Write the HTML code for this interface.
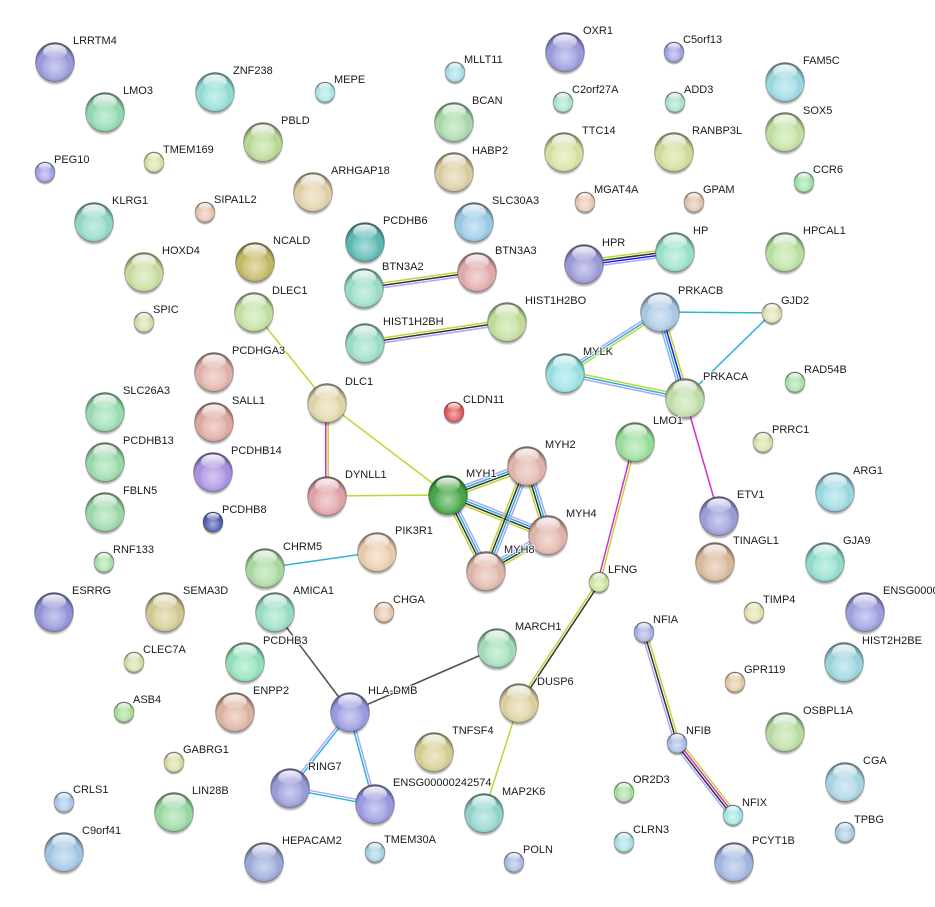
<!DOCTYPE html>
<html><head><meta charset="utf-8"><style>
html,body{margin:0;padding:0;background:#fff;}
svg{display:block;}
text{font-family:"Liberation Sans",Arial,sans-serif;font-size:11px;fill:#1a1a1a;stroke:#fff;stroke-width:2px;paint-order:stroke;stroke-linejoin:round;}
line{stroke-width:1.5;fill:none;}
.y{stroke:#bdd634}.k{stroke:#333}.l{stroke:#a8a8ff}.c{stroke:#2eb2d6}.b{stroke:#1c1cf0}.m{stroke:#d22ed2}.g{stroke:#505050}
</style></head><body>
<svg width="935" height="907" viewBox="0 0 935 907" xmlns="http://www.w3.org/2000/svg">
<defs>
<radialGradient id="gs" cx="50%" cy="50%" r="50%"><stop offset="0" stop-color="#000" stop-opacity=".45"/><stop offset=".85" stop-color="#000" stop-opacity=".35"/><stop offset="1" stop-color="#000" stop-opacity="0"/></radialGradient>
<radialGradient id="go" cx="50%" cy="62%" r="58%"><stop offset="0" stop-color="#fff" stop-opacity=".5"/><stop offset=".5" stop-color="#fff" stop-opacity=".15"/><stop offset=".78" stop-color="#000" stop-opacity="0"/><stop offset="1" stop-color="#000" stop-opacity=".42"/></radialGradient>
<linearGradient id="gh" x1="0" y1="0" x2="0" y2="1"><stop offset="0" stop-color="#fff" stop-opacity=".95"/><stop offset="1" stop-color="#fff" stop-opacity=".08"/></linearGradient>
<g id="sL"><ellipse cx="0" cy="4" rx="20" ry="19.5" fill="url(#gs)"/></g>
<g id="oL"><circle r="19.5" fill="url(#go)" stroke="#000" stroke-opacity=".22" stroke-width="1"/><ellipse cx="0" cy="-10.5" rx="12" ry="7" fill="url(#gh)"/></g>
<g id="sS"><ellipse cx="0" cy="2.5" rx="10.5" ry="10.5" fill="url(#gs)"/></g>
<g id="oS"><circle r="10" fill="url(#go)" stroke="#000" stroke-opacity=".22" stroke-width="1"/><ellipse cx="0" cy="-5.4" rx="6.2" ry="3.6" fill="url(#gh)"/></g>
</defs>

<!-- edges -->
<g transform="translate(364 288) rotate(-8.06)"><line class="y" x1="0" y1="-2.4" x2="114.1" y2="-2.4"/><line class="k" x1="0" y1="0" x2="114.1" y2="0"/><line class="l" x1="0" y1="2.4" x2="114.1" y2="2.4"/></g>
<g transform="translate(365 343) rotate(-8.41)"><line class="y" x1="0" y1="-2.4" x2="143.5" y2="-2.4"/><line class="k" x1="0" y1="0" x2="143.5" y2="0"/><line class="l" x1="0" y1="2.4" x2="143.5" y2="2.4"/></g>
<g transform="translate(584 264) rotate(-7.51)"><line class="y" x1="0" y1="-3.6" x2="91.8" y2="-3.6"/><line class="k" x1="0" y1="-1.2" x2="91.8" y2="-1.2"/><line class="b" x1="0" y1="1.2" x2="91.8" y2="1.2"/><line class="l" x1="0" y1="3.6" x2="91.8" y2="3.6"/></g>
<g transform="translate(565 373) rotate(-32.7)"><line class="l" x1="0" y1="-2.4" x2="112.9" y2="-2.4"/><line class="c" x1="0" y1="0" x2="112.9" y2="0"/><line class="y" x1="0" y1="2.4" x2="112.9" y2="2.4"/></g>
<g transform="translate(660 312) rotate(73.79)"><line class="y" x1="0" y1="-3.6" x2="89.6" y2="-3.6"/><line class="b" x1="0" y1="-1.2" x2="89.6" y2="-1.2"/><line class="c" x1="0" y1="1.2" x2="89.6" y2="1.2"/><line class="l" x1="0" y1="3.6" x2="89.6" y2="3.6"/></g>
<g transform="translate(565 373) rotate(11.77)"><line class="y" x1="0" y1="-2.4" x2="122.6" y2="-2.4"/><line class="c" x1="0" y1="0" x2="122.6" y2="0"/><line class="l" x1="0" y1="2.4" x2="122.6" y2="2.4"/></g>
<g transform="translate(448 495) rotate(-20.16)"><line class="l" x1="0" y1="-3.6" x2="84.2" y2="-3.6"/><line class="c" x1="0" y1="-1.2" x2="84.2" y2="-1.2"/><line class="k" x1="0" y1="1.2" x2="84.2" y2="1.2"/><line class="y" x1="0" y1="3.6" x2="84.2" y2="3.6"/></g>
<g transform="translate(448 495) rotate(21.8)"><line class="l" x1="0" y1="-3.6" x2="107.7" y2="-3.6"/><line class="c" x1="0" y1="-1.2" x2="107.7" y2="-1.2"/><line class="k" x1="0" y1="1.2" x2="107.7" y2="1.2"/><line class="y" x1="0" y1="3.6" x2="107.7" y2="3.6"/></g>
<g transform="translate(448 495) rotate(63.43)"><line class="l" x1="0" y1="-3.6" x2="85" y2="-3.6"/><line class="c" x1="0" y1="-1.2" x2="85" y2="-1.2"/><line class="k" x1="0" y1="1.2" x2="85" y2="1.2"/><line class="y" x1="0" y1="3.6" x2="85" y2="3.6"/></g>
<g transform="translate(527 466) rotate(111.33)"><line class="l" x1="0" y1="-3.6" x2="112.7" y2="-3.6"/><line class="c" x1="0" y1="-1.2" x2="112.7" y2="-1.2"/><line class="k" x1="0" y1="1.2" x2="112.7" y2="1.2"/><line class="y" x1="0" y1="3.6" x2="112.7" y2="3.6"/></g>
<g transform="translate(527 466) rotate(73.07)"><line class="l" x1="0" y1="-3.6" x2="72.1" y2="-3.6"/><line class="c" x1="0" y1="-1.2" x2="72.1" y2="-1.2"/><line class="k" x1="0" y1="1.2" x2="72.1" y2="1.2"/><line class="y" x1="0" y1="3.6" x2="72.1" y2="3.6"/></g>
<g transform="translate(486 571) rotate(-30.14)"><line class="l" x1="0" y1="-3.6" x2="71.7" y2="-3.6"/><line class="c" x1="0" y1="-1.2" x2="71.7" y2="-1.2"/><line class="k" x1="0" y1="1.2" x2="71.7" y2="1.2"/><line class="y" x1="0" y1="3.6" x2="71.7" y2="3.6"/></g>
<g transform="translate(350 712) rotate(128.29)"><line class="c" x1="0" y1="-1.2" x2="96.8" y2="-1.2"/><line class="l" x1="0" y1="1.2" x2="96.8" y2="1.2"/></g>
<g transform="translate(350 712) rotate(74.8)"><line class="l" x1="0" y1="-1.2" x2="95.3" y2="-1.2"/><line class="c" x1="0" y1="1.2" x2="95.3" y2="1.2"/></g>
<g transform="translate(290 788) rotate(10.66)"><line class="l" x1="0" y1="-1.2" x2="86.5" y2="-1.2"/><line class="c" x1="0" y1="1.2" x2="86.5" y2="1.2"/></g>
<g transform="translate(644 632) rotate(73.44)"><line class="y" x1="0" y1="-2.4" x2="115.8" y2="-2.4"/><line class="k" x1="0" y1="0" x2="115.8" y2="0"/><line class="l" x1="0" y1="2.4" x2="115.8" y2="2.4"/></g>
<g transform="translate(677 743) rotate(52.13)"><line class="y" x1="0" y1="-3.6" x2="91.2" y2="-3.6"/><line class="m" x1="0" y1="-1.2" x2="91.2" y2="-1.2"/><line class="k" x1="0" y1="1.2" x2="91.2" y2="1.2"/><line class="l" x1="0" y1="3.6" x2="91.2" y2="3.6"/></g>
<g transform="translate(635 442) rotate(104.42)"><line class="y" x1="0" y1="-1.2" x2="144.6" y2="-1.2"/><line class="m" x1="0" y1="1.2" x2="144.6" y2="1.2"/></g>
<g transform="translate(599 582) rotate(123.47)"><line class="k" x1="0" y1="-1.2" x2="145.1" y2="-1.2"/><line class="y" x1="0" y1="1.2" x2="145.1" y2="1.2"/></g>
<line class="m" x1="325.8" y1="403" x2="325.8" y2="496"/><line class="y" x1="328.2" y1="403" x2="328.2" y2="496"/>
<line class="c" x1="660" y1="312" x2="772" y2="313"/>
<line class="c" x1="772" y1="313" x2="685" y2="398"/>
<line class="m" x1="685" y1="398" x2="719" y2="516"/>
<line class="y" x1="519" y1="703" x2="484" y2="813"/>
<line class="y" x1="254" y1="312" x2="327" y2="403"/>
<line class="y" x1="327" y1="403" x2="448" y2="495"/>
<line class="y" x1="327" y1="496" x2="448" y2="495"/>
<line class="c" x1="265" y1="568" x2="377" y2="552"/>
<line class="g" x1="275" y1="612" x2="350" y2="712"/>
<line class="g" x1="350" y1="712" x2="497" y2="648"/>

<!-- nodes -->
<g transform="translate(55 62)"><use href="#sL"/><circle r="19.5" fill="#9c9ce0"/><use href="#oL"/></g>
<g transform="translate(105 112)"><use href="#sL"/><circle r="19.5" fill="#94dcb4"/><use href="#oL"/></g>
<g transform="translate(215 92)"><use href="#sL"/><circle r="19.5" fill="#94e0d8"/><use href="#oL"/></g>
<g transform="translate(263 142)"><use href="#sL"/><circle r="19.5" fill="#bcdc98"/><use href="#oL"/></g>
<g transform="translate(45 172)"><use href="#sS"/><circle r="10" fill="#a4a4e8"/><use href="#oS"/></g>
<g transform="translate(154 162)"><use href="#sS"/><circle r="10" fill="#dce4a8"/><use href="#oS"/></g>
<g transform="translate(94 222)"><use href="#sL"/><circle r="19.5" fill="#94dcc8"/><use href="#oL"/></g>
<g transform="translate(205 212)"><use href="#sS"/><circle r="10" fill="#ecc4b4"/><use href="#oS"/></g>
<g transform="translate(144 272)"><use href="#sL"/><circle r="19.5" fill="#cce0a0"/><use href="#oL"/></g>
<g transform="translate(255 262)"><use href="#sL"/><circle r="19.5" fill="#c4bc64"/><use href="#oL"/></g>
<g transform="translate(254 312)"><use href="#sL"/><circle r="19.5" fill="#c4e4a4"/><use href="#oL"/></g>
<g transform="translate(313 192)"><use href="#sL"/><circle r="19.5" fill="#e4d4ac"/><use href="#oL"/></g>
<g transform="translate(325 92)"><use href="#sS"/><circle r="10" fill="#ace8e8"/><use href="#oS"/></g>
<g transform="translate(455 72)"><use href="#sS"/><circle r="10" fill="#ace0ec"/><use href="#oS"/></g>
<g transform="translate(565 52)"><use href="#sL"/><circle r="19.5" fill="#9c9ce0"/><use href="#oL"/></g>
<g transform="translate(454 122)"><use href="#sL"/><circle r="19.5" fill="#acdcac"/><use href="#oL"/></g>
<g transform="translate(563 102)"><use href="#sS"/><circle r="10" fill="#ace8cc"/><use href="#oS"/></g>
<g transform="translate(564 152)"><use href="#sL"/><circle r="19.5" fill="#dce4a4"/><use href="#oL"/></g>
<g transform="translate(454 172)"><use href="#sL"/><circle r="19.5" fill="#dcd0a4"/><use href="#oL"/></g>
<g transform="translate(585 202)"><use href="#sS"/><circle r="10" fill="#eccbb4"/><use href="#oS"/></g>
<g transform="translate(474 222)"><use href="#sL"/><circle r="19.5" fill="#9ccce8"/><use href="#oL"/></g>
<g transform="translate(365 242)"><use href="#sL"/><circle r="19.5" fill="#5cbcb4"/><use href="#oL"/></g>
<g transform="translate(477 272)"><use href="#sL"/><circle r="19.5" fill="#e4acac"/><use href="#oL"/></g>
<g transform="translate(364 288)"><use href="#sL"/><circle r="19.5" fill="#9ce0cc"/><use href="#oL"/></g>
<g transform="translate(584 264)"><use href="#sL"/><circle r="19.5" fill="#9c9cdc"/><use href="#oL"/></g>
<g transform="translate(674 52)"><use href="#sS"/><circle r="10" fill="#a4a4e8"/><use href="#oS"/></g>
<g transform="translate(675 102)"><use href="#sS"/><circle r="10" fill="#ace4cc"/><use href="#oS"/></g>
<g transform="translate(785 82)"><use href="#sL"/><circle r="19.5" fill="#9cdce4"/><use href="#oL"/></g>
<g transform="translate(674 152)"><use href="#sL"/><circle r="19.5" fill="#d4e09c"/><use href="#oL"/></g>
<g transform="translate(785 132)"><use href="#sL"/><circle r="19.5" fill="#c4e4a4"/><use href="#oL"/></g>
<g transform="translate(804 182)"><use href="#sS"/><circle r="10" fill="#a4e4ac"/><use href="#oS"/></g>
<g transform="translate(694 202)"><use href="#sS"/><circle r="10" fill="#e4c4ac"/><use href="#oS"/></g>
<g transform="translate(675 252)"><use href="#sL"/><circle r="19.5" fill="#9ce4cc"/><use href="#oL"/></g>
<g transform="translate(785 252)"><use href="#sL"/><circle r="19.5" fill="#bce4a4"/><use href="#oL"/></g>
<g transform="translate(507 322)"><use href="#sL"/><circle r="19.5" fill="#c4e09c"/><use href="#oL"/></g>
<g transform="translate(365 343)"><use href="#sL"/><circle r="19.5" fill="#9ce0cc"/><use href="#oL"/></g>
<g transform="translate(660 312)"><use href="#sL"/><circle r="19.5" fill="#accce8"/><use href="#oL"/></g>
<g transform="translate(772 313)"><use href="#sS"/><circle r="10" fill="#e4e4b4"/><use href="#oS"/></g>
<g transform="translate(565 373)"><use href="#sL"/><circle r="19.5" fill="#9ce4e4"/><use href="#oL"/></g>
<g transform="translate(685 398)"><use href="#sL"/><circle r="19.5" fill="#c4e0ac"/><use href="#oL"/></g>
<g transform="translate(795 382)"><use href="#sS"/><circle r="10" fill="#ace4ac"/><use href="#oS"/></g>
<g transform="translate(635 442)"><use href="#sL"/><circle r="19.5" fill="#9ce09c"/><use href="#oL"/></g>
<g transform="translate(763 442)"><use href="#sS"/><circle r="10" fill="#dce4ac"/><use href="#oS"/></g>
<g transform="translate(719 516)"><use href="#sL"/><circle r="19.5" fill="#9e9edc"/><use href="#oL"/></g>
<g transform="translate(835 492)"><use href="#sL"/><circle r="19.5" fill="#9cdce4"/><use href="#oL"/></g>
<g transform="translate(327 403)"><use href="#sL"/><circle r="19.5" fill="#e4d8ac"/><use href="#oL"/></g>
<g transform="translate(454 412)"><use href="#sS"/><circle r="10" fill="#e45c5c"/><use href="#oS"/></g>
<g transform="translate(327 496)"><use href="#sL"/><circle r="19.5" fill="#e4a4ac"/><use href="#oL"/></g>
<g transform="translate(448 495)"><use href="#sL"/><circle r="19.5" fill="#44a844"/><use href="#oL"/></g>
<g transform="translate(527 466)"><use href="#sL"/><circle r="19.5" fill="#e4b8ac"/><use href="#oL"/></g>
<g transform="translate(548 535)"><use href="#sL"/><circle r="19.5" fill="#e4b8ac"/><use href="#oL"/></g>
<g transform="translate(486 571)"><use href="#sL"/><circle r="19.5" fill="#e4b8ac"/><use href="#oL"/></g>
<g transform="translate(377 552)"><use href="#sL"/><circle r="19.5" fill="#ecd0ae"/><use href="#oL"/></g>
<g transform="translate(265 568)"><use href="#sL"/><circle r="19.5" fill="#acdca4"/><use href="#oL"/></g>
<g transform="translate(214 372)"><use href="#sL"/><circle r="19.5" fill="#e4b4ac"/><use href="#oL"/></g>
<g transform="translate(214 422)"><use href="#sL"/><circle r="19.5" fill="#e0aca4"/><use href="#oL"/></g>
<g transform="translate(213 472)"><use href="#sL"/><circle r="19.5" fill="#ac94e4"/><use href="#oL"/></g>
<g transform="translate(213 522)"><use href="#sS"/><circle r="10" fill="#5460b4"/><use href="#oS"/></g>
<g transform="translate(144 322)"><use href="#sS"/><circle r="10" fill="#d4e4ac"/><use href="#oS"/></g>
<g transform="translate(105 412)"><use href="#sL"/><circle r="19.5" fill="#9ce0b4"/><use href="#oL"/></g>
<g transform="translate(105 462)"><use href="#sL"/><circle r="19.5" fill="#9cdcac"/><use href="#oL"/></g>
<g transform="translate(105 512)"><use href="#sL"/><circle r="19.5" fill="#9cdcac"/><use href="#oL"/></g>
<g transform="translate(104 562)"><use href="#sS"/><circle r="10" fill="#ace4ac"/><use href="#oS"/></g>
<g transform="translate(54 612)"><use href="#sL"/><circle r="19.5" fill="#9494dc"/><use href="#oL"/></g>
<g transform="translate(165 612)"><use href="#sL"/><circle r="19.5" fill="#d4cc94"/><use href="#oL"/></g>
<g transform="translate(275 612)"><use href="#sL"/><circle r="19.5" fill="#9ce0c4"/><use href="#oL"/></g>
<g transform="translate(134 662)"><use href="#sS"/><circle r="10" fill="#d4e4ac"/><use href="#oS"/></g>
<g transform="translate(245 662)"><use href="#sL"/><circle r="19.5" fill="#94e4bc"/><use href="#oL"/></g>
<g transform="translate(124 712)"><use href="#sS"/><circle r="10" fill="#ace09c"/><use href="#oS"/></g>
<g transform="translate(235 712)"><use href="#sL"/><circle r="19.5" fill="#e0b4a4"/><use href="#oL"/></g>
<g transform="translate(174 762)"><use href="#sS"/><circle r="10" fill="#dce0a4"/><use href="#oS"/></g>
<g transform="translate(290 788)"><use href="#sL"/><circle r="19.5" fill="#9c9cdc"/><use href="#oL"/></g>
<g transform="translate(64 802)"><use href="#sS"/><circle r="10" fill="#acc8e8"/><use href="#oS"/></g>
<g transform="translate(174 812)"><use href="#sL"/><circle r="19.5" fill="#9cdca4"/><use href="#oL"/></g>
<g transform="translate(64 852)"><use href="#sL"/><circle r="19.5" fill="#a4c8e8"/><use href="#oL"/></g>
<g transform="translate(264 862)"><use href="#sL"/><circle r="19.5" fill="#9cacdc"/><use href="#oL"/></g>
<g transform="translate(384 612)"><use href="#sS"/><circle r="10" fill="#ecc8ac"/><use href="#oS"/></g>
<g transform="translate(497 648)"><use href="#sL"/><circle r="19.5" fill="#a4e0bc"/><use href="#oL"/></g>
<g transform="translate(350 712)"><use href="#sL"/><circle r="19.5" fill="#9c9ce4"/><use href="#oL"/></g>
<g transform="translate(519 703)"><use href="#sL"/><circle r="19.5" fill="#e0d4a4"/><use href="#oL"/></g>
<g transform="translate(434 752)"><use href="#sL"/><circle r="19.5" fill="#d8d094"/><use href="#oL"/></g>
<g transform="translate(375 804)"><use href="#sL"/><circle r="19.5" fill="#9c9ce4"/><use href="#oL"/></g>
<g transform="translate(484 813)"><use href="#sL"/><circle r="19.5" fill="#94d8d0"/><use href="#oL"/></g>
<g transform="translate(375 852)"><use href="#sS"/><circle r="10" fill="#acd4e8"/><use href="#oS"/></g>
<g transform="translate(514 862)"><use href="#sS"/><circle r="10" fill="#acbce8"/><use href="#oS"/></g>
<g transform="translate(599 582)"><use href="#sS"/><circle r="10" fill="#cce8a4"/><use href="#oS"/></g>
<g transform="translate(715 562)"><use href="#sL"/><circle r="19.5" fill="#dcbc9c"/><use href="#oL"/></g>
<g transform="translate(825 562)"><use href="#sL"/><circle r="19.5" fill="#94e0d0"/><use href="#oL"/></g>
<g transform="translate(754 612)"><use href="#sS"/><circle r="10" fill="#e4e4ac"/><use href="#oS"/></g>
<g transform="translate(865 612)"><use href="#sL"/><circle r="19.5" fill="#a0a0e4"/><use href="#oL"/></g>
<g transform="translate(644 632)"><use href="#sS"/><circle r="10" fill="#acb4e4"/><use href="#oS"/></g>
<g transform="translate(844 662)"><use href="#sL"/><circle r="19.5" fill="#9cd8e0"/><use href="#oL"/></g>
<g transform="translate(735 682)"><use href="#sS"/><circle r="10" fill="#e4cca4"/><use href="#oS"/></g>
<g transform="translate(785 732)"><use href="#sL"/><circle r="19.5" fill="#bce0a4"/><use href="#oL"/></g>
<g transform="translate(677 743)"><use href="#sS"/><circle r="10" fill="#acc0e8"/><use href="#oS"/></g>
<g transform="translate(845 782)"><use href="#sL"/><circle r="19.5" fill="#acd8e8"/><use href="#oL"/></g>
<g transform="translate(624 792)"><use href="#sS"/><circle r="10" fill="#ace0a4"/><use href="#oS"/></g>
<g transform="translate(733 815)"><use href="#sS"/><circle r="10" fill="#a4e8e4"/><use href="#oS"/></g>
<g transform="translate(845 832)"><use href="#sS"/><circle r="10" fill="#accfe4"/><use href="#oS"/></g>
<g transform="translate(624 842)"><use href="#sS"/><circle r="10" fill="#ace0e8"/><use href="#oS"/></g>
<g transform="translate(734 862)"><use href="#sL"/><circle r="19.5" fill="#a4b8e4"/><use href="#oL"/></g>

<!-- labels -->
<text x="73" y="44">LRRTM4</text>
<text x="123" y="94">LMO3</text>
<text x="233" y="74">ZNF238</text>
<text x="281" y="124">PBLD</text>
<text x="54" y="163">PEG10</text>
<text x="163" y="153">TMEM169</text>
<text x="112" y="204">KLRG1</text>
<text x="214" y="203">SIPA1L2</text>
<text x="162" y="254">HOXD4</text>
<text x="273" y="244">NCALD</text>
<text x="272" y="294">DLEC1</text>
<text x="331" y="174">ARHGAP18</text>
<text x="334" y="83">MEPE</text>
<text x="464" y="63">MLLT11</text>
<text x="583" y="34">OXR1</text>
<text x="472" y="104">BCAN</text>
<text x="572" y="93">C2orf27A</text>
<text x="582" y="134">TTC14</text>
<text x="472" y="154">HABP2</text>
<text x="594" y="193">MGAT4A</text>
<text x="492" y="204">SLC30A3</text>
<text x="383" y="224">PCDHB6</text>
<text x="495" y="254">BTN3A3</text>
<text x="382" y="270">BTN3A2</text>
<text x="602" y="246">HPR</text>
<text x="683" y="43">C5orf13</text>
<text x="684" y="93">ADD3</text>
<text x="803" y="64">FAM5C</text>
<text x="692" y="134">RANBP3L</text>
<text x="803" y="114">SOX5</text>
<text x="813" y="173">CCR6</text>
<text x="703" y="193">GPAM</text>
<text x="693" y="234">HP</text>
<text x="803" y="234">HPCAL1</text>
<text x="525" y="304">HIST1H2BO</text>
<text x="383" y="325">HIST1H2BH</text>
<text x="678" y="294">PRKACB</text>
<text x="781" y="304">GJD2</text>
<text x="583" y="355">MYLK</text>
<text x="703" y="380">PRKACA</text>
<text x="804" y="373">RAD54B</text>
<text x="653" y="424">LMO1</text>
<text x="772" y="433">PRRC1</text>
<text x="737" y="498">ETV1</text>
<text x="853" y="474">ARG1</text>
<text x="345" y="385">DLC1</text>
<text x="463" y="403">CLDN11</text>
<text x="345" y="478">DYNLL1</text>
<text x="466" y="477">MYH1</text>
<text x="545" y="448">MYH2</text>
<text x="566" y="517">MYH4</text>
<text x="504" y="553">MYH8</text>
<text x="395" y="534">PIK3R1</text>
<text x="283" y="550">CHRM5</text>
<text x="232" y="354">PCDHGA3</text>
<text x="232" y="404">SALL1</text>
<text x="231" y="454">PCDHB14</text>
<text x="222" y="513">PCDHB8</text>
<text x="153" y="313">SPIC</text>
<text x="123" y="394">SLC26A3</text>
<text x="123" y="444">PCDHB13</text>
<text x="123" y="494">FBLN5</text>
<text x="113" y="553">RNF133</text>
<text x="72" y="594">ESRRG</text>
<text x="183" y="594">SEMA3D</text>
<text x="293" y="594">AMICA1</text>
<text x="143" y="653">CLEC7A</text>
<text x="263" y="644">PCDHB3</text>
<text x="133" y="703">ASB4</text>
<text x="253" y="694">ENPP2</text>
<text x="183" y="753">GABRG1</text>
<text x="308" y="770">RING7</text>
<text x="73" y="793">CRLS1</text>
<text x="192" y="794">LIN28B</text>
<text x="82" y="834">C9orf41</text>
<text x="282" y="844">HEPACAM2</text>
<text x="393" y="603">CHGA</text>
<text x="515" y="630">MARCH1</text>
<text x="368" y="694">HLA-DMB</text>
<text x="537" y="685">DUSP6</text>
<text x="452" y="734">TNFSF4</text>
<text x="393" y="786">ENSG00000242574</text>
<text x="502" y="795">MAP2K6</text>
<text x="384" y="843">TMEM30A</text>
<text x="523" y="853">POLN</text>
<text x="608" y="573">LFNG</text>
<text x="733" y="544">TINAGL1</text>
<text x="843" y="544">GJA9</text>
<text x="763" y="603">TIMP4</text>
<text x="883" y="594">ENSG00000</text>
<text x="653" y="623">NFIA</text>
<text x="862" y="644">HIST2H2BE</text>
<text x="744" y="673">GPR119</text>
<text x="803" y="714">OSBPL1A</text>
<text x="686" y="734">NFIB</text>
<text x="863" y="764">CGA</text>
<text x="633" y="783">OR2D3</text>
<text x="742" y="806">NFIX</text>
<text x="854" y="823">TPBG</text>
<text x="633" y="833">CLRN3</text>
<text x="752" y="844">PCYT1B</text>
</svg>
</body></html>
